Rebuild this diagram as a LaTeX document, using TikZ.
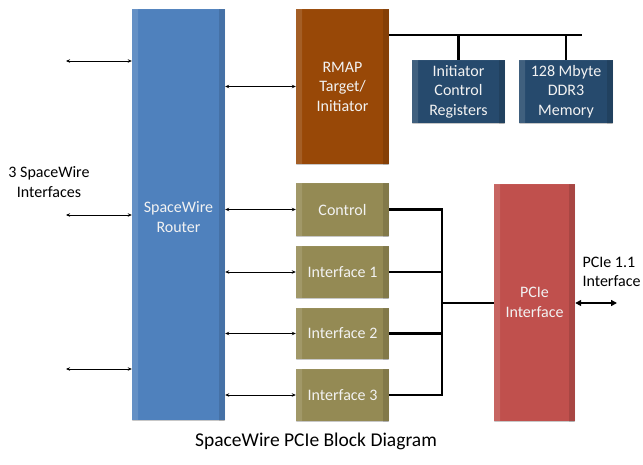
\documentclass[tikz,border=0pt]{standalone}
\usepackage{fontspec}
\setmainfont{Carlito}
\usetikzlibrary{arrows.meta}
\definecolor{rblue}{HTML}{4F81BD}
\definecolor{rbrown}{HTML}{984807}
\definecolor{dblue}{HTML}{264A6D}
\definecolor{olive}{HTML}{948A54}
\definecolor{pred}{HTML}{C0504D}
\definecolor{btext}{HTML}{F2F2F2}
\tikzset{
  bevel/.style={path picture={
    \coordinate (NW) at (path picture bounding box.north west);
    \coordinate (NE) at (path picture bounding box.north east);
    \coordinate (SW) at (path picture bounding box.south west);
    \coordinate (SE) at (path picture bounding box.south east);
    \fill[white,opacity=0.28] (NW) -- (NE) -- ([shift={(-6,-6)}]NE) -- ([shift={(6,-6)}]NW) -- cycle;
    \fill[white,opacity=0.12] (NW) -- (SW) -- ([shift={(6,6)}]SW) -- ([shift={(6,-6)}]NW) -- cycle;
    \fill[black,opacity=0.12] (NE) -- (SE) -- ([shift={(-6,6)}]SE) -- ([shift={(-6,-6)}]NE) -- cycle;
    \fill[black,opacity=0.22] (SW) -- (SE) -- ([shift={(-6,6)}]SE) -- ([shift={(6,6)}]SW) -- cycle;
  }},
  blk/.style={rectangle, inner sep=0pt, bevel, text=btext, align=center,
    font=\fontsize{16}{19.5}\selectfont},
  arr/.style={line width=0.8pt, {Stealth[length=4pt,width=3.5pt]}-{Stealth[length=4pt,width=3.5pt]}},
  bus/.style={line width=2.5pt},
  lbl/.style={font=\fontsize{16}{19.5}\selectfont, align=center, text=black},
}
\begin{document}
\begin{tikzpicture}[x=1pt,y=-1pt]
\useasboundingbox (0,0) rectangle (643,464);
% blocks
\node[blk, fill=rblue, minimum width=93pt, minimum height=411pt] (router) at (178.5,214.5) {};
\node[text=btext, font=\fontsize{16}{19.5}\selectfont, align=center] (routertxt) at (178.5,217) {SpaceWire\\Router};
\node[blk, fill=rbrown, minimum width=93pt, minimum height=155pt] (rmap) at (342.5,86.5) {RMAP\\Target/\\Initiator};
\node[blk, fill=dblue, minimum width=93pt, minimum height=63pt] (icr) at (458.5,91.5) {Initiator\\Control\\Registers};
\node[blk, fill=dblue, minimum width=94pt, minimum height=63pt] (ddr) at (566,91.5) {128 Mbyte\\DDR3\\Memory};
\node[blk, fill=olive, minimum width=93pt, minimum height=53pt] (ctrl) at (342.5,209.5) {Control};
\node[blk, fill=olive, minimum width=93pt, minimum height=52pt] (if1) at (342.5,272) {Interface 1};
\node[blk, fill=olive, minimum width=93pt, minimum height=51pt] (if2) at (342.5,333.5) {Interface 2};
\node[blk, fill=olive, minimum width=93pt, minimum height=52pt] (if3) at (342.5,395) {Interface 3};
\node[blk, fill=pred, minimum width=81pt, minimum height=237pt] (pcie) at (534.5,302.5) {PCIe\\Interface};
% labels
\node[lbl] (swlbl) at (49,182) {3 SpaceWire\\Interfaces};
\node[lbl, anchor=west, align=left] (pcielbl) at (579,272) {PCIe 1.1\\Interface};
\node[font=\fontsize{19.5}{23}\selectfont] (caption) at (316,441) {SpaceWire PCIe Block Diagram};
% left external links
\coordinate (l1) at (66,61);
\coordinate (l2) at (66,215);
\coordinate (l3) at (66,369);
\draw[arr] (l1) -- (l1 -| router.west);
\draw[arr] (l2) -- (l2 -| router.west);
\draw[arr] (l3) -- (l3 -| router.west);
% router to blocks
\draw[arr] (router.east |- rmap.west) -- (rmap.west);
\draw[arr] (router.east |- ctrl.west) -- (ctrl.west);
\draw[arr] (router.east |- if1.west) -- (if1.west);
\draw[arr] (router.east |- if2.west) -- (if2.west);
\draw[arr] (router.east |- if3.west) -- (if3.west);
% memory bus
\coordinate (busL) at (389,35);
\coordinate (busR) at (582,35);
\draw[bus] (rmap.east |- busL) -- (busR);
\draw[bus] (icr.north |- busL) -- (icr.north);
\draw[bus] (ddr.north |- busL) -- (ddr.north);
% interface bus to PCIe
\coordinate (jx) at (442,303);
\draw[bus] (ctrl.east) -- (ctrl.east -| jx) -- (if3.east -| jx) -- (if3.east);
\draw[bus] (if1.east) -- (if1.east -| jx);
\draw[bus] (if2.east) -- (if2.east -| jx);
\draw[bus] (jx) -- (pcie.west |- jx);
% PCIe external
\coordinate (pext) at (617,303);
\draw[line width=2pt, {Triangle[length=6pt,width=6pt]}-{Triangle[length=6pt,width=6pt]}] (pcie.east |- pext) -- (pext);
\end{tikzpicture}
\end{document}
